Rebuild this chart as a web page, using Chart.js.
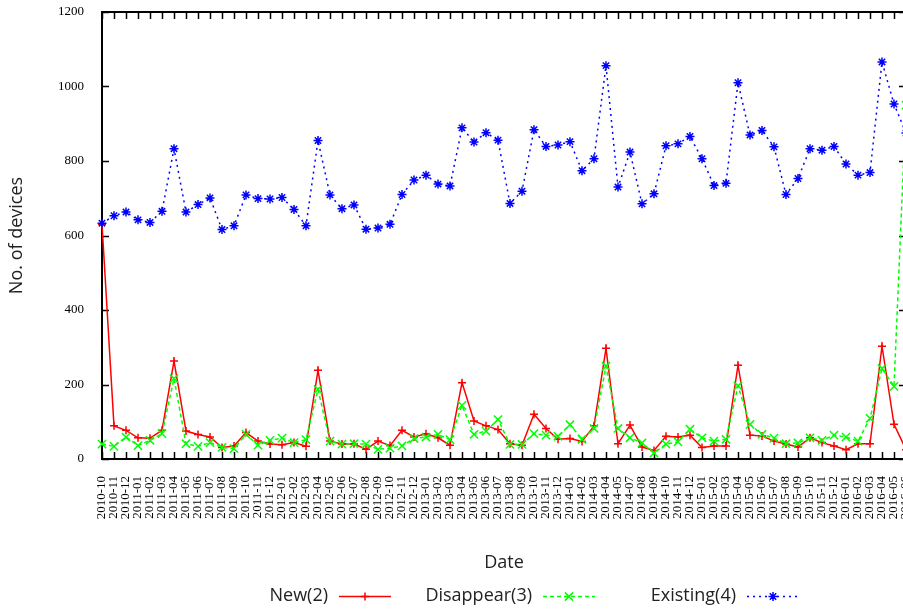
<!DOCTYPE html>
<html>
<head>
<meta charset="utf-8">
<title>No. of devices by month</title>
<script src="https://cdn.jsdelivr.net/npm/chart.js@4.4.1/dist/chart.umd.min.js"></script>
<style>
  html, body { margin: 0; padding: 0; overflow: hidden; background: #fff; }
  #chart { display: block; }
</style>
</head>
<body>
<canvas id="chart" width="920" height="609"></canvas>
<script>
// Monthly buckets (no record for 2014-06)
const months = [
  "2010-10","2010-11","2010-12",
  "2011-01","2011-02","2011-03","2011-04","2011-05","2011-06","2011-07","2011-08","2011-09","2011-10","2011-11","2011-12",
  "2012-01","2012-02","2012-03","2012-04","2012-05","2012-06","2012-07","2012-08","2012-09","2012-10","2012-11","2012-12",
  "2013-01","2013-02","2013-03","2013-04","2013-05","2013-06","2013-07","2013-08","2013-09","2013-10","2013-11","2013-12",
  "2014-01","2014-02","2014-03","2014-04","2014-05","2014-07","2014-08","2014-09","2014-10","2014-11","2014-12",
  "2015-01","2015-02","2015-03","2015-04","2015-05","2015-06","2015-07","2015-08","2015-09","2015-10","2015-11","2015-12",
  "2016-01","2016-02","2016-03","2016-04","2016-05","2016-06"
];

const newDevices = [
  630, 89, 77, 57, 56, 77, 263, 75, 66, 59,
  31, 35, 71, 48, 40, 38, 44, 34, 238, 48,
  40, 41, 26, 48, 36, 77, 59, 68, 57, 37,
  205, 102, 89, 79, 41, 37, 120, 82, 53, 55,
  47, 89, 297, 41, 91, 32, 23, 61, 59, 64,
  31, 35, 35, 252, 64, 62, 48, 40, 32, 57,
  44, 35, 25, 41, 41, 303, 93, 25
];

const disappeared = [
  40, 34, 59, 36, 50, 68, 216, 41, 34, 44,
  31, 28, 66, 37, 50, 56, 44, 52, 187, 48,
  40, 41, 40, 26, 29, 35, 55, 59, 66, 52,
  144, 66, 75, 106, 39, 39, 68, 64, 61, 92,
  53, 82, 249, 82, 57, 43, 16, 40, 46, 80,
  57, 48, 53, 196, 93, 66, 56, 41, 43, 57,
  50, 64, 59, 48, 109, 243, 195, 950
];

const existing = [
  633, 653, 663, 642, 635, 665, 833, 663, 683, 701,
  616, 626, 709, 699, 698, 702, 670, 626, 855, 709,
  672, 682, 617, 620, 630, 710, 749, 762, 738, 733,
  889, 851, 876, 856, 686, 719, 884, 839, 843, 852,
  774, 806, 1056, 730, 824, 685, 712, 841, 846, 866,
  806, 734, 740, 1010, 870, 882, 838, 710, 753, 833,
  829, 839, 792, 762, 769, 1066, 953, 875
];

const seriesNames = ["New(2)", "Disappear(3)", "Existing(4)"];
const yMin = 0, yMax = 1200, yStep = 200;

const serifTicks = { family: "'Liberation Serif', 'Times New Roman', serif", size: 13 };
const sansTitle = { family: "'Open Sans', 'Noto Sans', sans-serif", size: 18 };

// Closed frame with short inward tick marks on all four sides
const framePlugin = {
  id: 'frame',
  beforeDatasetsDraw(chart) {
    const { ctx, chartArea: a, scales } = chart;
    const len = 7;
    ctx.save();
    ctx.strokeStyle = '#000';
    ctx.lineWidth = 1.5;
    ctx.beginPath();
    scales.x.ticks.forEach((t, i) => {
      const px = Math.round(scales.x.getPixelForTick(i)) + 0.5;
      ctx.moveTo(px, a.bottom); ctx.lineTo(px, a.bottom - len);
      ctx.moveTo(px, a.top); ctx.lineTo(px, a.top + len);
    });
    scales.y.ticks.forEach((t, i) => {
      const py = Math.round(scales.y.getPixelForTick(i)) + 0.5;
      ctx.moveTo(a.left, py); ctx.lineTo(a.left + len, py);
      ctx.moveTo(a.right, py); ctx.lineTo(a.right - len, py);
    });
    ctx.stroke();
    ctx.lineWidth = 2;
    ctx.strokeRect(a.left, a.top, a.right - a.left, a.bottom - a.top);
    ctx.restore();
  }
};

// Key below the plot: right-justified label followed by a line sample with its marker
const keyPlugin = {
  id: 'keyBelow',
  afterDraw(chart) {
    const { ctx } = chart;
    const y = 596;
    ctx.save();
    ctx.font = `${sansTitle.size}px ${sansTitle.family}`;
    ctx.textAlign = 'right';
    ctx.textBaseline = 'middle';
    chart.data.datasets.forEach((ds, i) => {
      const textEnd = 328 + 204 * i;
      ctx.fillStyle = '#222';
      ctx.fillText(ds.label, textEnd, y);
      const x0 = textEnd + 11, x1 = textEnd + 63;
      ctx.strokeStyle = ds.borderColor;
      ctx.lineWidth = ds.borderWidth;
      ctx.setLineDash(ds.borderDash || []);
      ctx.beginPath();
      ctx.moveTo(x0, y + 0.5); ctx.lineTo(x1, y + 0.5);
      ctx.stroke();
      ctx.setLineDash([]);
      Chart.helpers.drawPoint(ctx, {
        pointStyle: ds.pointStyle, radius: ds.pointRadius,
        borderWidth: ds.pointBorderWidth, rotation: 0
      }, (x0 + x1) / 2, y + 0.5);
    });
    ctx.restore();
  }
};

function series(label, data, color, style, radius, dash, order) {
  return {
    label, data, order,
    borderColor: color, backgroundColor: color,
    pointBorderColor: color, pointBackgroundColor: color,
    borderWidth: 1.5, borderDash: dash,
    pointStyle: style, pointRadius: radius, pointBorderWidth: 1.5,
    pointHoverRadius: radius, tension: 0, fill: false, clip: false
  };
}

// Keep the plot box exactly where the layout padding puts it
function noEdgePadding(scale) {
  scale.paddingTop = 0; scale.paddingBottom = 0;
  scale.paddingLeft = 0; scale.paddingRight = 0;
}

new Chart(document.getElementById('chart'), {
  type: 'line',
  data: {
    labels: months,
    datasets: [
      series(seriesNames[0], newDevices, '#ff0000', 'cross', 4, [], 3),
      series(seriesNames[1], disappeared, '#00ff00', 'crossRot', 5.8, [4, 3], 2),
      series(seriesNames[2], existing, '#0000ff', 'star', 4.5, [2, 4], 1)
    ]
  },
  options: {
    responsive: false,
    devicePixelRatio: 1,
    animation: false,
    events: [],
    layout: { padding: { left: 0, right: 14, top: 12, bottom: 0 } },
    plugins: { legend: { display: false }, tooltip: { enabled: false } },
    scales: {
      x: {
        type: 'category',
        grid: { display: false },
        border: { display: false },
        ticks: {
          autoSkip: false, minRotation: 90, maxRotation: 90,
          padding: 9, color: '#000', font: serifTicks
        },
        title: {
          display: true, text: 'Date', color: '#222', font: sansTitle,
          padding: { top: 0, bottom: 35 }
        },
        afterFit(scale) { scale.height = 150; noEdgePadding(scale); }
      },
      y: {
        min: yMin, max: yMax,
        grid: { display: false },
        border: { display: false },
        ticks: {
          stepSize: yStep, padding: 10, color: '#000', font: serifTicks,
          callback: (v) => String(v)
        },
        title: {
          display: true, text: 'No. of devices', color: '#222', font: sansTitle,
          padding: { top: 6, bottom: 0 }
        },
        afterFit(scale) { scale.width = 102; noEdgePadding(scale); }
      }
    }
  },
  plugins: [framePlugin, keyPlugin]
});
</script>
</body>
</html>
